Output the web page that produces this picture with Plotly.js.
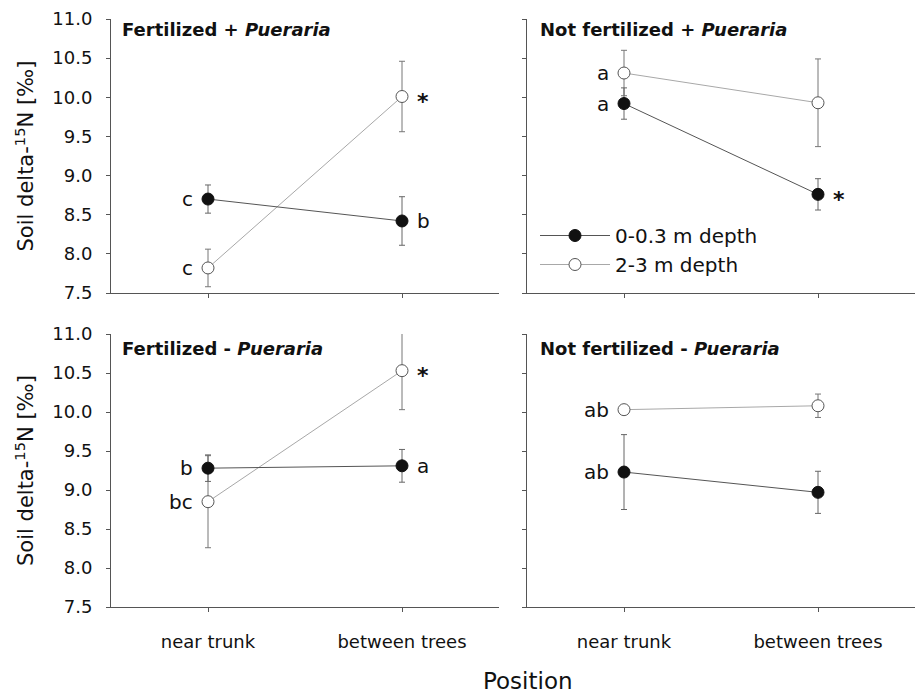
<!DOCTYPE html>
<html>
<head>
<meta charset="utf-8">
<script src="https://cdn.plot.ly/plotly-3.0.1.min.js"></script>
<style>html,body{margin:0;padding:0;background:#fff;}#chart{width:918px;height:698px;}</style>
</head>
<body>
<div id="chart"></div>
<script>
// ---- data ----
const categories = ["near trunk", "between trees"];
const panelTitles = [
  "Fertilized + <i>Pueraria</i>",
  "Not fertilized + <i>Pueraria</i>",
  "Fertilized - <i>Pueraria</i>",
  "Not fertilized - <i>Pueraria</i>"
];
const seriesNames = ["0-0.3 m depth", "2-3 m depth"];

// 0-0.3 m depth (filled circles), per panel: [near trunk, between trees]
const shallowMean = [[8.70, 8.42], [9.92, 8.76], [9.28, 9.31], [9.23, 8.97]];
const shallowErr  = [[0.18, 0.31], [0.20, 0.20], [0.17, 0.21], [0.48, 0.27]];
const shallowLabels = [["c", "b"], ["a", "*"], ["b", "a"], ["ab", ""]];

// 2-3 m depth (open circles)
const deepMean = [[7.82, 10.01], [10.31, 9.93], [8.85, 10.53], [10.03, 10.08]];
const deepErr  = [[0.24, 0.45], [0.29, 0.56], [0.59, 0.50], [0.05, 0.15]];
const deepLabels = [["c", "*"], ["a", ""], ["bc", "*"], ["ab", ""]];

const yTitle = "Soil delta-<sup>15</sup>N [‰]";
const xTitle = "Position";

// ---- build ----
const FONT = "DejaVu Sans";
const W = 918, H = 698;
const xDomains = [[111 / W, 499 / W], [527 / W, 915 / W]];
const yDomains = [[1 - 293 / H, 1 - 19 / H], [1 - 607 / H, 1 - 334 / H]];

const traces = [];
const annotations = [];

function axisSuffix(i) { return i === 0 ? "" : String(i + 1); }

for (let p = 0; p < 4; p++) {
  const s = axisSuffix(p);
  const xa = "x" + s, ya = "y" + s;
  // deep (drawn first, underneath)
  traces.push({
    type: "scatter", mode: "lines+markers", name: seriesNames[1],
    x: categories, y: deepMean[p], xaxis: xa, yaxis: ya,
    error_y: { type: "data", array: deepErr[p], visible: true, color: "#777", thickness: 1, width: 3 },
    line: { color: "#a8a8a8", width: 1 },
    marker: { symbol: "circle", size: 12, color: "#ffffff", line: { color: "#555", width: 1 } },
    cliponaxis: false, showlegend: p === 0, legendgroup: "deep", legendrank: 2
  });
  traces.push({
    type: "scatter", mode: "lines+markers", name: seriesNames[0],
    x: categories, y: shallowMean[p], xaxis: xa, yaxis: ya,
    error_y: { type: "data", array: shallowErr[p], visible: true, color: "#666", thickness: 1, width: 3 },
    line: { color: "#555", width: 1 },
    marker: { symbol: "circle", size: 12, color: "#111", line: { color: "#111", width: 1 } },
    cliponaxis: false, showlegend: p === 0, legendgroup: "shallow", legendrank: 1
  });

  const addLabels = (labels, means) => {
    labels.forEach((t, i) => {
      if (!t) return;
      const star = t === "*";
      annotations.push({
        xref: xa, yref: ya, x: categories[i], y: means[i], text: star ? "<b>*</b>" : t, showarrow: false,
        xanchor: i === 0 ? "right" : "left", yanchor: "middle",
        xshift: i === 0 ? -13 : 13, yshift: star ? -5 : 0,
        font: { family: FONT, size: star ? 22 : 20, color: "#111" }
      });
    });
  };
  addLabels(shallowLabels[p], shallowMean[p]);
  addLabels(deepLabels[p], deepMean[p]);

  // panel title
  const col = p % 2, row = Math.floor(p / 2);
  annotations.push({
    xref: "paper", yref: "paper",
    x: (col === 0 ? 120 : 538) / W,
    y: 1 - (row === 0 ? 29 : 348) / H,
    xanchor: "left", yanchor: "middle", showarrow: false,
    text: "<b>" + panelTitles[p] + "</b>",
    font: { family: FONT, size: 18, color: "#111" }
  });
}

annotations.push({
  xref: "paper", yref: "paper", x: 528 / W, y: 2 / H,
  xanchor: "center", yanchor: "bottom", showarrow: false,
  text: xTitle, font: { family: FONT, size: 23, color: "#111" }
});

const layout = {
  width: W, height: H,
  margin: { l: 0, r: 0, t: 0, b: 0 },
  paper_bgcolor: "#ffffff", plot_bgcolor: "#ffffff",
  font: { family: FONT, size: 18, color: "#111" },
  showlegend: true,
  legend: {
    x: 535 / W, y: 1 - 216 / H, xanchor: "left", yanchor: "top",
    bgcolor: "rgba(0,0,0,0)", borderwidth: 0, itemwidth: 70,
    font: { family: FONT, size: 20, color: "#111" },
    traceorder: "normal", tracegroupgap: 0
  },
  annotations: annotations
};

for (let p = 0; p < 4; p++) {
  const s = axisSuffix(p);
  const col = p % 2, row = Math.floor(p / 2);
  layout["xaxis" + s] = {
    domain: xDomains[col], anchor: "y" + s, type: "category",
    range: [-0.5, 1.5], showline: true, linecolor: "#555", linewidth: 1,
    ticks: "outside", ticklen: 4, tickcolor: "#555", showgrid: false, zeroline: false,
    showticklabels: row === 1, ticklabelstandoff: 14,
    tickfont: { family: FONT, size: 18, color: "#111" }
  };
  const ya = {
    domain: yDomains[row], anchor: "x" + s,
    range: [7.5, 11.0], tick0: 7.5, dtick: 0.5, tickformat: ".1f",
    showline: true, linecolor: "#555", linewidth: 1,
    ticks: "outside", ticklen: 4, tickcolor: "#555", showgrid: false, zeroline: false,
    showticklabels: col === 0, ticklabelstandoff: 10,
    tickfont: { family: FONT, size: 18, color: "#111" }
  };
  if (col === 0) ya.title = { text: yTitle, font: { family: FONT, size: 21, color: "#111" }, standoff: 12 };
  layout["yaxis" + s] = ya;
}

Plotly.newPlot("chart", traces, layout, { displayModeBar: false, staticPlot: true });
</script>
</body>
</html>
